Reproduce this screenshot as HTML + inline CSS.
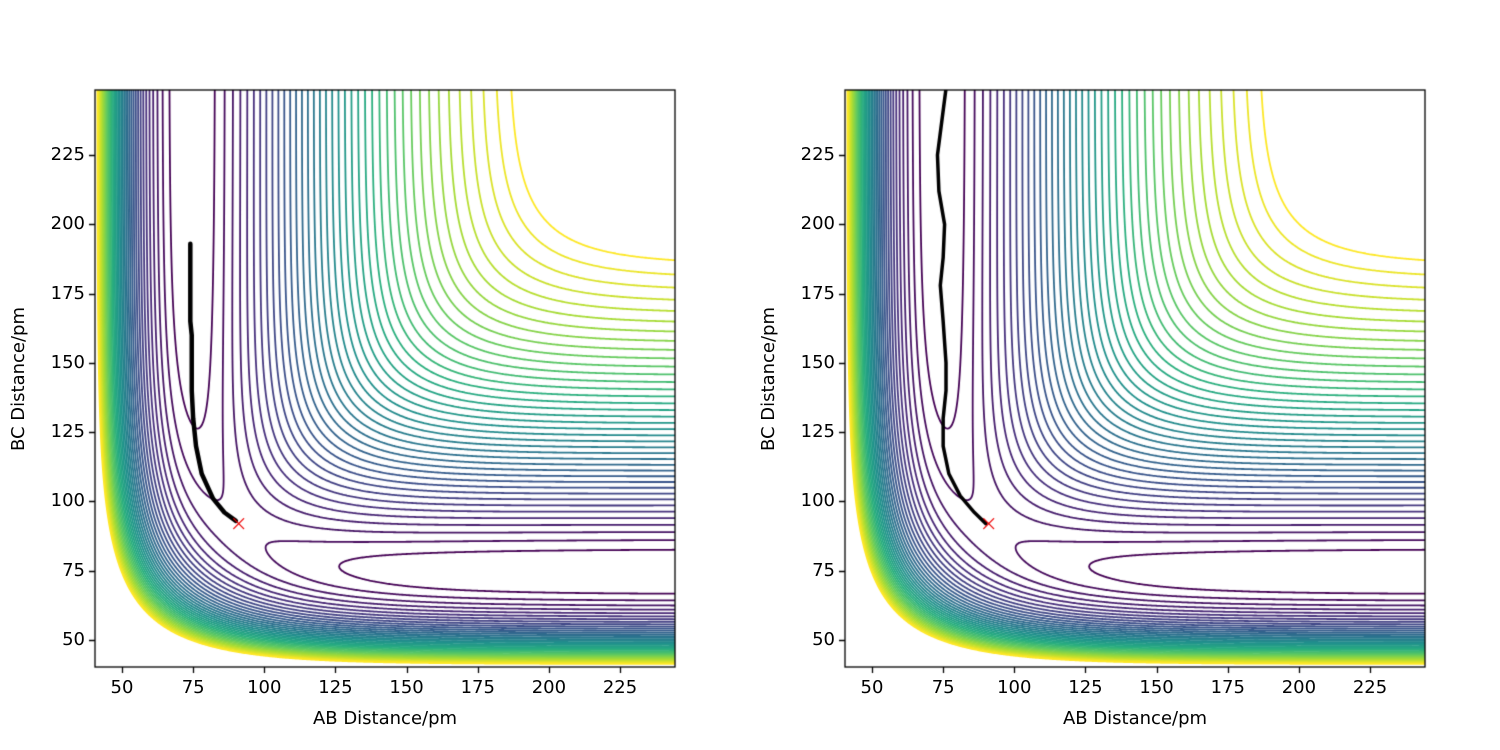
<!DOCTYPE html>
<html><head><meta charset="utf-8">
<style>
body{margin:0;background:#fff;}
#w{position:relative;width:1500px;height:750px;overflow:hidden;font-family:"DejaVu Sans","Liberation Sans",sans-serif;color:#000;}
canvas{position:absolute;left:0;top:0;}
.t{position:absolute;font-size:18px;line-height:18px;white-space:nowrap;}
</style></head><body>
<div id="w"><canvas id="c" width="1500" height="750"></canvas></div>
<script>
const W=document.getElementById('w');
const cv=document.getElementById('c');const ctx=cv.getContext('2d');
const XS=2.846,YS=2.771,XMIN=40.51,YMIN=40.26;
const axes=[{L:95,T:90,W:580,H:577},{L:845,T:90,W:580,H:577}];
const D=1,a=0.01942,r0=74,k=0.18;
function QJ(r){const e1=Math.exp(-a*(r-r0)),e2=e1*e1;const f=D/4/(1+k);
return [f*((3+k)*e2-(2+6*k)*e1), f*((1+3*k)*e2-(6+2*k)*e1)];}
function V(x,y){const A=QJ(x),B=QJ(y),C=QJ(x+y);
const s=A[1]*A[1]+B[1]*B[1]+C[1]*C[1]-A[1]*B[1]-B[1]*C[1]-A[1]*C[1];
return A[0]+B[0]+C[0]-Math.sqrt(Math.max(s,0));}
const stops=[[68,1,84],[71,45,123],[59,82,139],[44,114,142],[33,145,140],[40,174,128],[94,201,98],[170,220,50],[253,231,37]];
function vir(t){t=Math.max(0,Math.min(1,t))*8;const i=Math.min(7,Math.floor(t)),f=t-i;const a=stops[i],b=stops[i+1];
return `rgb(${Math.round(a[0]+(b[0]-a[0])*f)},${Math.round(a[1]+(b[1]-a[1])*f)},${Math.round(a[2]+(b[2]-a[2])*f)})`;}
const h=0.5,x0=38,y0=38,N=Math.round((252-38)/h)+1;
const G=[];for(let j=0;j<N;j++){const row=new Float64Array(N);for(let i=0;i<N;i++)row[i]=V(x0+i*h,y0+j*h);G.push(row);}
const levels=[];for(let l=-0.9755;l<=-0.197;l+=0.02)levels.push(l);
function draw(ax,traj){
 ctx.save();ctx.beginPath();ctx.rect(ax.L,ax.T,ax.W,ax.H);ctx.clip();
 const px=x=>ax.L+(x-XMIN)*XS, py=y=>ax.T+ax.H-(y-YMIN)*YS;
 ctx.lineWidth=1.8;ctx.lineCap='round';
 levels.forEach((lv,li)=>{
  ctx.strokeStyle=vir(li/(levels.length-1));ctx.beginPath();
  for(let j=0;j<N-1;j++)for(let i=0;i<N-1;i++){
   const v=[G[j][i],G[j][i+1],G[j+1][i+1],G[j+1][i]];
   const X=[i,i+1,i+1,i],Y=[j,j,j+1,j+1];const pts=[];
   for(let e=0;e<4;e++){const p=v[e],q=v[(e+1)%4];
    if((p<lv)!==(q<lv)){const t=(lv-p)/(q-p);const e2=(e+1)%4;
     pts.push([x0+h*(X[e]+(X[e2]-X[e])*t),y0+h*(Y[e]+(Y[e2]-Y[e])*t)]);}}
   for(let s=0;s+1<pts.length;s+=2){ctx.moveTo(px(pts[s][0]),py(pts[s][1]));ctx.lineTo(px(pts[s+1][0]),py(pts[s+1][1]));}
  }
  ctx.stroke();
 });
 ctx.strokeStyle='#000';ctx.lineWidth=traj.w;ctx.lineJoin='round';ctx.beginPath();
 traj.p.forEach((p,i)=>{i?ctx.lineTo(px(p[0]),py(p[1])):ctx.moveTo(px(p[0]),py(p[1]));});ctx.stroke();
 const cx=px(91),cy=py(92);ctx.strokeStyle='#e00';ctx.lineWidth=1.3;ctx.beginPath();
 ctx.moveTo(cx-5,cy-5);ctx.lineTo(cx+5,cy+5);ctx.moveTo(cx+5,cy-5);ctx.lineTo(cx-5,cy+5);ctx.stroke();
 ctx.restore();
 ctx.strokeStyle='#000';ctx.lineWidth=1.3;ctx.strokeRect(ax.L,ax.T,ax.W,ax.H);
 ctx.beginPath();
 for(let v=50;v<=225;v+=25){const X=Math.round(px(v))+.5;ctx.moveTo(X,ax.T+ax.H);ctx.lineTo(X,ax.T+ax.H+6);
  const Y=Math.round(py(v))+.5;ctx.moveTo(ax.L,Y);ctx.lineTo(ax.L-6,Y);
  let d=document.createElement('div');d.className='t';d.textContent=v;d.style.left=(px(v)-40)+'px';d.style.width='80px';d.style.textAlign='center';d.style.top=(ax.T+ax.H+12)+'px';W.appendChild(d);
  d=document.createElement('div');d.className='t';d.textContent=v;d.style.right=(1500-ax.L+10)+'px';d.style.top=(py(v)-9)+'px';W.appendChild(d);}
 ctx.stroke();
 let d=document.createElement('div');d.className='t';d.textContent='AB Distance/pm';d.style.left=(ax.L+ax.W/2-100)+'px';d.style.width='200px';d.style.textAlign='center';d.style.top='710px';W.appendChild(d);
 d=document.createElement('div');d.className='t';d.textContent='BC Distance/pm';d.style.left=(ax.L-176)+'px';d.style.width='200px';d.style.textAlign='center';d.style.top=(ax.T+ax.H/2-9)+'px';d.style.transform='rotate(-90deg)';W.appendChild(d);
}
draw(axes[0],{w:4.5,p:[[74,193],[74,185],[74,165],[74.5,160],[74.5,140],[75,130],[76,120],[78,110],[82,101],[86,96],[90,93]]});
draw(axes[1],{w:3.5,p:[[76,249],[74.5,237],[73,225],[73.5,212],[75.5,200],[75,188],[74,178],[75,165],[76,150],[76,140],[75,130],[75,120],[77,110],[81,102],[86,96],[90,92]]});
</script>
</body></html>
